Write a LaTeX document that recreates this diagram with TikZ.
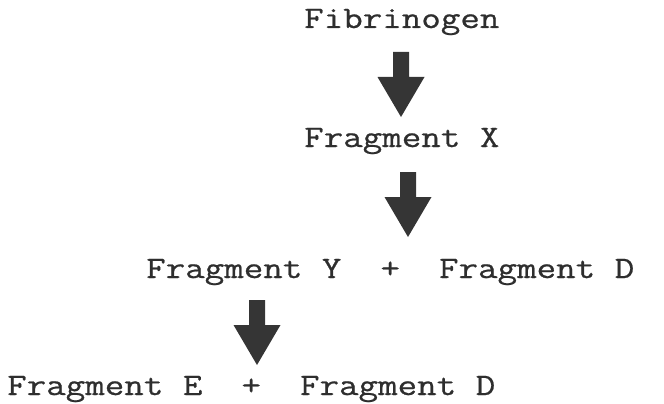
\documentclass[tikz,border=0pt]{standalone}
\usepackage{fontspec}
\newfontfamily\typew[FakeStretch=1.215,FakeBold=0.7]{Latin Modern Mono}
\definecolor{inkcol}{HTML}{2E2E2E}
\definecolor{arrowcol}{HTML}{353535}
\begin{document}
\begin{tikzpicture}[x=1pt,y=-1pt,
  lbl/.style={anchor=base west,inner sep=0pt,text=inkcol,font=\typew\fontsize{31.2pt}{36pt}\selectfont},
  blockarrow/.pic={\fill[arrowcol] (-8,0) -- (8,0) -- (8,25) -- (23.5,25) -- (0,65) -- (-23.5,25) -- (-8,25) -- cycle;}]
\useasboundingbox (0,0) rectangle (664,404);
\node[lbl] (fib) at (304,28) {Fibrinogen};
\node[lbl] (fx) at (304,147) {Fragment X};
\node[lbl] (fyd) at (146,278) {Fragment Y~~+~~Fragment D};
\node[lbl] (fed) at (7,395) {Fragment E~~+~~Fragment D};
\coordinate (a1) at (401,52);
\coordinate (a2) at (408,172);
\coordinate (a3) at (257,300);
\pic at (a1) {blockarrow};
\pic at (a2) {blockarrow};
\pic at (a3) {blockarrow};
\end{tikzpicture}
\end{document}
